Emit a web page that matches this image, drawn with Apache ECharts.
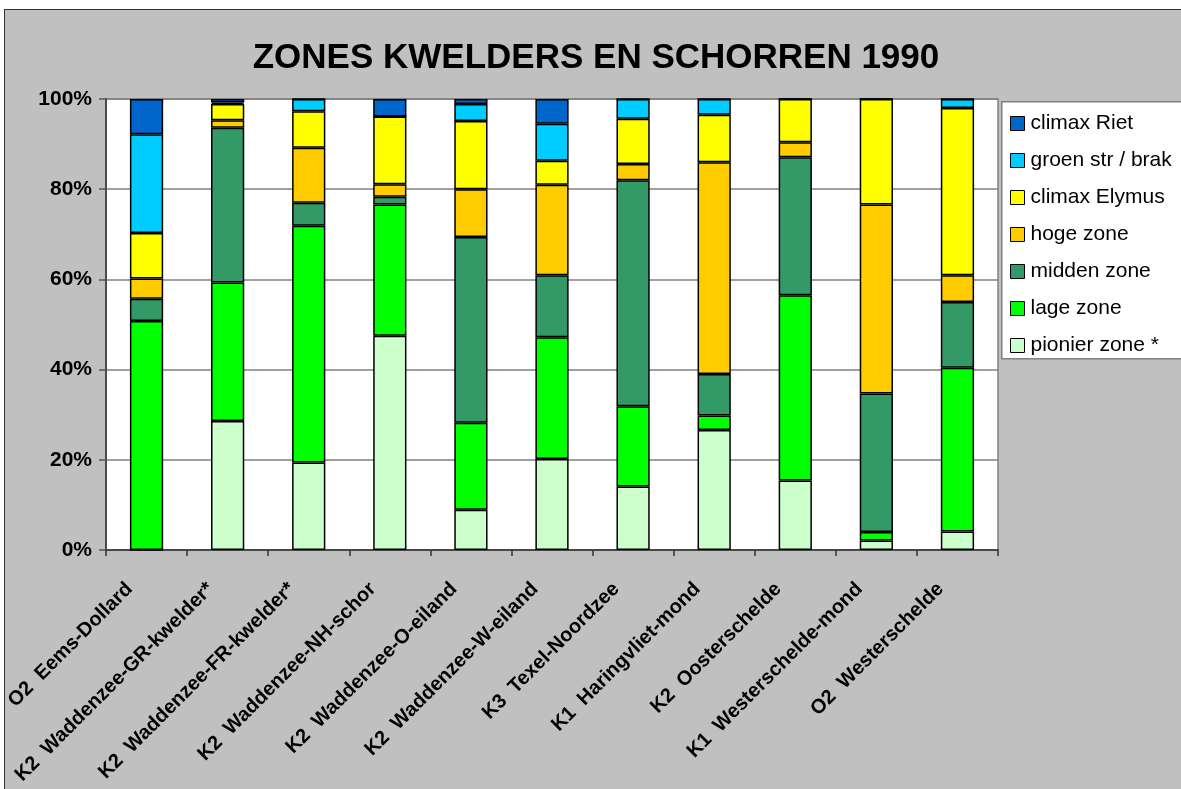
<!DOCTYPE html>
<html>
<head>
<meta charset="utf-8">
<script src="https://cdn.jsdelivr.net/npm/echarts@6/dist/echarts.min.js"></script>
<style>
html,body{margin:0;padding:0;background:#fff;}
#frame{position:absolute;left:4px;top:9px;width:1200px;height:800px;background:#c0c0c0;border:1.5px solid #333;}
#chart{position:absolute;left:0;top:0;width:1181px;height:789px;}
</style>
</head>
<body>
<div id="frame"></div>
<div id="chart"></div>
<script>
const categories = [
  'O2  Eems-Dollard',
  'K2  Waddenzee-GR-kwelder*',
  'K2  Waddenzee-FR-kwelder*',
  'K2  Waddenzee-NH-schor',
  'K2  Waddenzee-O-eiland',
  'K2  Waddenzee-W-eiland',
  'K3  Texel-Noordzee',
  'K1  Haringvliet-mond',
  'K2  Oosterschelde',
  'K1  Westerschelde-mond',
  'O2  Westerschelde'
];
const yTicks = [0, 20, 40, 60, 80, 100];
const title = 'ZONES KWELDERS EN SCHORREN 1990';

// stacking order bottom -> top
const pionierZone  = [0,    28.6, 19.4, 47.5, 8.9,  20.2, 14.1, 26.6, 15.4, 2.1,  4.1];
const lageZone     = [50.8, 30.7, 52.5, 29.1, 19.3, 27.0, 17.8, 3.2,  41.1, 1.9,  36.3];
const middenZone   = [4.9,  34.3, 5.1,  1.7,  41.2, 13.7, 50.1, 9.2,  30.6, 30.7, 14.6];
const hogeZone     = [4.5,  1.7,  12.2, 2.8,  10.6, 20.1, 3.6,  47.0, 3.3,  41.9, 5.9];
const climaxElymus = [10.1, 3.6,  8.1,  15.0, 15.1, 5.3,  10.0, 10.5, 9.6,  23.4, 37.1];
const groenBrak    = [21.9, 0.3,  2.7,  0,    3.8,  8.2,  4.4,  3.5,  0,    0,    2.0];
const climaxRiet   = [7.8,  0.8,  0,    3.9,  1.1,  5.5,  0,    0,    0,    0,    0];

const seriesDefs = [
  {name: 'pionier zone *', data: pionierZone, color: '#CCFFCC'},
  {name: 'lage zone', data: lageZone, color: '#00FF00'},
  {name: 'midden zone', data: middenZone, color: '#339966'},
  {name: 'hoge zone', data: hogeZone, color: '#FFCC00'},
  {name: 'climax Elymus', data: climaxElymus, color: '#FFFF00'},
  {name: 'groen str / brak', data: groenBrak, color: '#00CCFF'},
  {name: 'climax Riet', data: climaxRiet, color: '#0066CC'}
];

const chart = echarts.init(document.getElementById('chart'), null, {renderer: 'canvas'});
const font = '"Liberation Sans", Arial, Helvetica, sans-serif';

chart.setOption({
  backgroundColor: 'transparent',
  animation: false,
  title: {
    text: title,
    left: 596,
    top: 41,
    padding: 0,
    textAlign: 'center',
    textStyle: {fontFamily: font, fontSize: 35, fontWeight: 'bold', color: '#000', lineHeight: 35}
  },
  graphic: [{
    type: 'rect', left: 1001, top: 101, z: -1,
    shape: {width: 200, height: 257},
    style: {fill: '#fff', stroke: '#808080', lineWidth: 1.5}
  }],
  legend: {
    orient: 'vertical',
    left: 1010,
    top: 113,
    padding: 0,
    itemWidth: 14,
    itemHeight: 14,
    itemGap: 16,
    data: seriesDefs.map(s => s.name).reverse(),
    icon: 'rect',
    itemStyle: {borderColor: '#000', borderWidth: 1},
    textStyle: {fontFamily: font, fontSize: 21, color: '#000', lineHeight: 20, padding: [0, 0, 0, 1]}
  },
  grid: {left: 106, top: 99, right: 183, bottom: 239, show: true, backgroundColor: '#fff', borderColor: '#808080', borderWidth: 1.5},
  xAxis: {
    type: 'category',
    data: categories,
    axisLine: {lineStyle: {color: '#333', width: 1.5}},
    axisTick: {show: true, length: 6, lineStyle: {color: '#333', width: 1.5}},
    axisLabel: {
      rotate: 45,
      interval: 0,
      margin: 19,
      padding: [0, 24, 0, 0],
      fontFamily: font, fontSize: 20, fontWeight: 'bold', color: '#000'
    }
  },
  yAxis: {
    type: 'value',
    min: yTicks[0],
    max: yTicks[yTicks.length - 1],
    interval: 20,
    axisLine: {show: true, lineStyle: {color: '#333', width: 1.5}},
    axisTick: {show: true, length: 7, lineStyle: {color: '#555', width: 1.5}},
    splitLine: {lineStyle: {color: '#808080', width: 1.5}},
    axisLabel: {formatter: '{value}%', margin: 14, fontFamily: font, fontSize: 21, fontWeight: 'bold', color: '#000'}
  },
  series: seriesDefs.map(s => ({
    name: s.name,
    type: 'bar',
    stack: 'total',
    barWidth: '41%',
    data: s.data,
    itemStyle: {color: s.color, borderColor: '#000', borderWidth: 1.5}
  }))
});
</script>
</body>
</html>
